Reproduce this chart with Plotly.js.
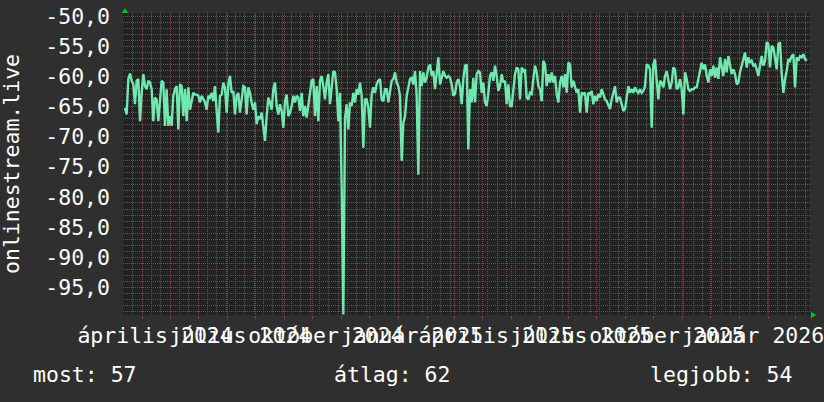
<!DOCTYPE html>
<html>
<head>
<meta charset="utf-8">
<script src="https://cdn.plot.ly/plotly-3.0.1.min.js"></script>
<style>
  html, body { margin: 0; padding: 0; background: #2f2f2f; }
  #chart { width: 824px; height: 402px; }
</style>
</head>
<body>
<div id="chart"></div>
<script>
// ---- data ----
const seriesName = 'onlinestream.live';
const sampleStart = '2024-03-13T19:00:00Z';   // first sample time
const sampleStepHours = 42.82;                // time between samples
const signalValues = [
  -65.2,-66.3,-60.4,-59.5,-60.7,-61.3,-64.6,-60.7,-60.4,-67.4,
  -62.7,-59.6,-61.6,-62.1,-60.7,-61.0,-62.1,-67.4,-63.5,-63.8,
  -67.4,-63.2,-60.7,-61.0,-68.2,-62.1,-68.2,-66.6,-68.2,-63.2,
  -62.1,-61.6,-68.8,-61.3,-61.6,-66.6,-62.1,-67.4,-61.8,-65.5,
  -63.8,-62.7,-63.0,-63.0,-63.2,-64.3,-63.2,-63.8,-64.3,-65.5,
  -63.2,-63.5,-62.7,-64.1,-61.6,-65.7,-69.3,-63.2,-63.0,-61.0,
  -61.8,-66.0,-61.3,-59.9,-62.7,-62.4,-66.3,-63.2,-62.7,-66.0,
  -63.5,-61.6,-61.8,-66.3,-61.8,-62.7,-64.3,-65.5,-64.3,-67.9,
  -66.6,-67.1,-66.0,-68.2,-70.7,-66.6,-63.5,-64.3,-65.5,-62.1,
  -61.0,-64.9,-66.3,-64.6,-65.7,-68.5,-64.1,-63.0,-66.6,-66.0,
  -64.9,-63.2,-64.3,-63.2,-63.5,-65.7,-62.7,-66.6,-64.9,-66.8,
  -64.9,-63.2,-60.7,-60.4,-66.6,-61.6,-67.4,-60.7,-59.9,-61.6,
  -63.8,-61.0,-59.6,-64.6,-61.8,-59.1,-59.3,-62.1,-67.4,-62.7,
  -78.5,-99.5,-67.0,-64.6,-68.8,-64.3,-64.9,-62.7,-64.3,-62.1,
  -63.0,-61.0,-63.2,-71.8,-63.8,-63.8,-65.2,-68.5,-63.0,-61.8,
  -62.7,-61.3,-60.7,-60.4,-63.8,-64.1,-62.1,-62.1,-64.3,-62.4,
  -60.7,-60.4,-59.3,-61.0,-61.6,-63.2,-74.0,-67.7,-66.6,-63.2,
  -61.6,-60.4,-60.2,-61.3,-59.1,-63.2,-76.3,-59.1,-61.6,-59.3,
  -61.0,-60.2,-58.5,-58.0,-59.9,-59.1,-62.1,-58.8,-56.8,-61.3,
  -59.9,-59.1,-59.9,-60.2,-59.9,-60.2,-61.3,-63.2,-62.9,-61.0,
  -60.4,-61.6,-64.6,-60.4,-58.2,-58.0,-72.1,-62.1,-64.3,-60.2,
  -64.3,-59.6,-59.1,-59.3,-62.7,-61.0,-64.3,-64.9,-62.7,-59.9,
  -59.3,-60.7,-58.2,-59.9,-62.4,-61.6,-59.6,-61.0,-60.7,-64.6,
  -61.3,-64.9,-64.9,-62.7,-59.6,-58.5,-58.8,-63.8,-58.5,-59.1,
  -58.8,-63.5,-63.8,-62.7,-62.9,-60.4,-58.2,-59.3,-61.6,-62.1,
  -64.1,-57.4,-58.0,-61.6,-59.6,-61.0,-59.3,-61.0,-59.9,-62.9,
  -64.3,-61.0,-59.9,-61.8,-59.6,-62.7,-57.7,-58.0,-61.8,-60.7,
  -61.6,-62.7,-62.1,-66.0,-62.7,-62.9,-62.7,-66.0,-62.7,-62.9,
  -62.4,-64.6,-63.2,-64.1,-62.9,-63.5,-62.1,-63.2,-63.8,-64.1,
  -64.9,-65.4,-63.8,-62.9,-61.6,-64.3,-63.5,-63.5,-64.6,-65.7,
  -65.4,-63.2,-61.6,-62.7,-62.1,-62.7,-61.8,-62.4,-62.7,-62.1,
  -62.7,-62.4,-61.6,-58.0,-58.2,-58.8,-68.5,-58.0,-57.1,-60.7,
  -63.8,-60.7,-61.0,-61.8,-59.9,-59.1,-60.4,-62.1,-61.0,-58.5,
  -58.8,-62.1,-61.8,-60.4,-62.1,-66.3,-59.3,-60.4,-62.1,-62.4,
  -62.1,-62.1,-61.8,-61.8,-60.4,-59.1,-57.7,-58.8,-58.0,-59.9,
  -61.0,-58.8,-59.9,-58.2,-60.2,-58.5,-60.4,-56.8,-58.8,-59.9,
  -57.1,-59.3,-56.6,-58.2,-59.6,-58.8,-59.6,-61.3,-61.0,-59.3,
  -58.0,-57.1,-56.0,-58.5,-56.8,-57.7,-57.4,-58.2,-58.0,-58.8,
  -59.9,-58.2,-56.6,-58.2,-57.4,-54.3,-54.6,-58.5,-54.9,-55.2,
  -56.8,-58.8,-54.6,-54.3,-59.6,-62.7,-60.4,-59.1,-57.1,-57.4,
  -56.6,-56.3,-61.8,-56.8,-57.4,-56.6,-56.8,-56.3,-57.1,-57.4
];
const xLabelDates = ['2024-04-15','2024-07-15','2024-10-15','2025-01-15',
                     '2025-04-15','2025-07-15','2025-10-15','2026-01-15'];
const xLabelTexts = ['április 2024','július 2024','október 2024','január 2025',
                     'április 2025','július 2025','október 2025','január 2026'];
const yTickValues = [-50,-55,-60,-65,-70,-75,-80,-85,-90,-95];
const yTickTexts  = ['-50,0','-55,0','-60,0','-65,0','-70,0','-75,0','-80,0','-85,0','-90,0','-95,0'];
const xRange = ['2024-03-11 16:00:00', '2026-03-17 01:00:00'];
const yRange = [-99.6, -49.45];
const statLabels = ['most: 57', 'átlag: 62', 'legjobb: 54'];

// ---- build ----
const t0 = Date.parse(sampleStart);
const times = signalValues.map((_, i) => new Date(t0 + i * sampleStepHours * 3600e3)
  .toISOString().slice(0, 19).replace('T', ' '));

const FONT = 'DejaVu Sans Mono, monospace';
const FS = 21.5;
const minorGrid = '#585858';
const majorGrid = '#8e3c3c';

const W = 824, H = 402, L = 123, R = 14, T = 13, B = 87;
const pw = W - L - R, ph = H - T - B;
const px2paperX = p => (p - L) / pw;
const px2paperY = p => (H - B - p) / ph;

const data = [{
  x: times, y: signalValues, type: 'scatter', mode: 'lines',
  name: seriesName,
  line: { color: '#70e8b0', width: 2.4 },
  hoverinfo: 'skip'
}, {
  x: xLabelDates, y: xLabelDates.map(() => null), xaxis: 'x2', yaxis: 'y',
  type: 'scatter', mode: 'lines', showlegend: false, hoverinfo: 'skip'
}];

const layout = {
  width: W, height: H,
  margin: { l: L, r: R, t: T, b: B, pad: 0 },
  paper_bgcolor: '#2f2f2f',
  plot_bgcolor: '#222222',
  showlegend: false,
  font: { family: FONT, size: FS, color: '#ffffff' },
  xaxis: {
    type: 'date', range: xRange,
    tickmode: 'linear', tick0: '2024-04-01', dtick: 'M1',
    showticklabels: false,
    showgrid: true, gridcolor: majorGrid, griddash: '1px,1px', gridwidth: 1,
    ticks: 'outside', ticklen: 3, tickcolor: majorGrid,
    minor: { dtick: 10 * 86400000, tick0: '2024-04-01', showgrid: true,
             gridcolor: minorGrid, griddash: '1px,1px', ticks: '' },
    zeroline: false, showline: false, fixedrange: true
  },
  xaxis2: {
    type: 'date', range: xRange, overlaying: 'x', side: 'bottom',
    tickmode: 'array', tickvals: xLabelDates, ticktext: xLabelTexts,
    tickangle: 0, showgrid: false, ticks: '', zeroline: false,
    ticklabelstandoff: 5, ticklabeloverflow: 'allow',
    tickfont: { family: FONT, size: FS, color: '#ffffff' }
  },
  yaxis: {
    range: yRange,
    tickmode: 'array', tickvals: yTickValues, ticktext: yTickTexts,
    showgrid: true, gridcolor: majorGrid, griddash: '1px,1px', gridwidth: 1,
    minor: { dtick: 1, tick0: -50, showgrid: true, gridcolor: minorGrid, griddash: '1px,1px' },
    ticks: '', ticklabelstandoff: 12, ticklabeloverflow: 'allow',
    tickfont: { family: FONT, size: FS, color: '#ffffff' },
    zeroline: false, showline: false, fixedrange: true
  },
  annotations: [
    { text: seriesName, xref: 'paper', yref: 'paper', x: px2paperX(11), y: 0.5,
      textangle: -90, showarrow: false, xanchor: 'center', yanchor: 'middle',
      font: { family: FONT, size: FS, color: '#ffffff' } },
    { text: statLabels[0], xref: 'paper', yref: 'paper', x: px2paperX(31), y: px2paperY(375),
      showarrow: false, xanchor: 'left', yanchor: 'middle',
      font: { family: FONT, size: FS, color: '#ffffff' } },
    { text: statLabels[1], xref: 'paper', yref: 'paper', x: px2paperX(332), y: px2paperY(375),
      showarrow: false, xanchor: 'left', yanchor: 'middle',
      font: { family: FONT, size: FS, color: '#ffffff' } },
    { text: statLabels[2], xref: 'paper', yref: 'paper', x: px2paperX(648), y: px2paperY(375),
      showarrow: false, xanchor: 'left', yanchor: 'middle',
      font: { family: FONT, size: FS, color: '#ffffff' } }
  ],
  shapes: [
    { type: 'path', xref: 'paper', yref: 'paper', xsizemode: 'pixel', ysizemode: 'pixel',
      xanchor: px2paperX(125), yanchor: 1, path: 'M -3,0 L 3,0 L 0,5 Z',
      fillcolor: '#00cc00', line: { width: 0 } },
    { type: 'path', xref: 'paper', yref: 'paper', xsizemode: 'pixel', ysizemode: 'pixel',
      xanchor: 1, yanchor: 0, path: 'M 1,3 L 1,-3 L 6,0 Z',
      fillcolor: '#00cc00', line: { width: 0 } }
  ]
};

Plotly.newPlot('chart', data, layout, { staticPlot: true, displayModeBar: false });
</script>
</body>
</html>
